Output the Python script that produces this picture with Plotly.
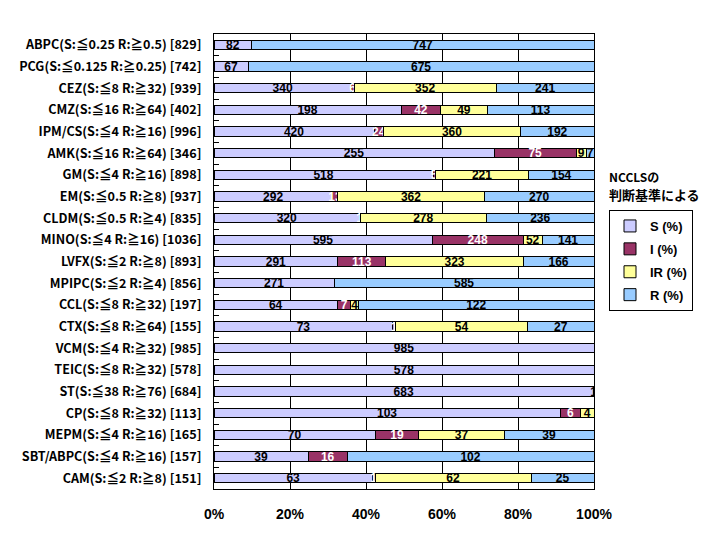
import plotly.graph_objects as go

categories = [
    "ABPC(S:≦0.25 R:≧0.5) [829]",
    "PCG(S:≦0.125 R:≧0.25) [742]",
    "CEZ(S:≦8 R:≧32) [939]",
    "CMZ(S:≦16 R:≧64) [402]",
    "IPM/CS(S:≦4 R:≧16) [996]",
    "AMK(S:≦16 R:≧64) [346]",
    "GM(S:≦4 R:≧16) [898]",
    "EM(S:≦0.5 R:≧8) [937]",
    "CLDM(S:≦0.5 R:≧4) [835]",
    "MINO(S:≦4 R:≧16) [1036]",
    "LVFX(S:≦2 R:≧8) [893]",
    "MPIPC(S:≦2 R:≧4) [856]",
    "CCL(S:≦8 R:≧32) [197]",
    "CTX(S:≦8 R:≧64) [155]",
    "VCM(S:≦4 R:≧32) [985]",
    "TEIC(S:≦8 R:≧32) [578]",
    "ST(S:≦38 R:≧76) [684]",
    "CP(S:≦8 R:≧32) [113]",
    "MEPM(S:≦4 R:≧16) [165]",
    "SBT/ABPC(S:≦4 R:≧16) [157]",
    "CAM(S:≦2 R:≧8) [151]",
]
S_vals = [82, 67, 340, 198, 420, 255, 518, 292, 320, 595, 291, 271, 64, 73, 985, 578, 683, 103, 70, 39, 63]
I_vals = [0, 0, 6, 42, 24, 75, 5, 13, 1, 248, 113, 0, 7, 1, 0, 0, 0, 6, 19, 16, 1]
IR_vals = [0, 0, 352, 49, 360, 9, 221, 362, 278, 52, 323, 0, 4, 54, 0, 0, 0, 4, 37, 0, 62]
R_vals = [747, 675, 241, 113, 192, 7, 154, 270, 236, 141, 166, 585, 122, 27, 0, 0, 1, 0, 39, 102, 25]
series_names = ["S (%)", "I (%)", "IR (%)", "R (%)"]
series_colors = ["#CCCCFF", "#993366", "#FFFF99", "#99CCFF"]
text_colors = ["black", "white", "black", "black"]
x_ticks = [0, 20, 40, 60, 80, 100]
x_ticktext = [f"{t}%" for t in x_ticks]
legend_title_lines = ["NCCLSの", "判断基準による"]

# page body adds an 8px offset; plot area target: x 214..594, y 34..489
W, H = 708, 526
ML, MR, MT, MB = 206, 122, 26, 45
PW, PH = W - ML - MR, H - MT - MB


def px_x(x):
    return (x - 8 - ML) / PW


def px_y(y):
    return 1 - (y - 8 - MT) / PH


fig = go.Figure()
for i, (name, vals) in enumerate(zip(series_names, [S_vals, I_vals, IR_vals, R_vals])):
    fig.add_trace(go.Bar(
        y=categories, x=vals, name=name, orientation="h",
        marker=dict(color=series_colors[i], line=dict(color="black", width=1)),
        text=[str(v) if v else "" for v in vals],
        textposition="inside", insidetextanchor="middle",
        constraintext="none", textangle=0,
        textfont=dict(family="Liberation Sans", size=12, color=text_colors[i], weight="bold"),
        legendgroup=name, hoverinfo="x+y",
    ))

fig.update_layout(
    barmode="stack", barnorm="percent", bargap=0.56,
    width=W, height=H,
    margin=dict(l=ML, r=MR, t=MT, b=MB, autoexpand=False),
    paper_bgcolor="white", plot_bgcolor="white",
    font=dict(family="Noto Sans CJK JP", color="black"),
    showlegend=True,
    legend=dict(
        x=px_x(609), y=px_y(210), xanchor="left", yanchor="top",
        xref="paper", yref="paper",
        bordercolor="black", borderwidth=1, bgcolor="white",
        font=dict(family="Liberation Sans", size=13, color="black", weight="bold"),
        traceorder="grouped", tracegroupgap=3, itemwidth=30,
    ),
    annotations=[
        dict(text=legend_title_lines[0], x=px_x(607), y=px_y(176),
             xref="paper", yref="paper", showarrow=False,
             xanchor="left", yanchor="middle",
             font=dict(family="Noto Sans CJK JP", size=12, color="black", weight="bold")),
        dict(text=legend_title_lines[1], x=px_x(607), y=px_y(194),
             xref="paper", yref="paper", showarrow=False,
             xanchor="left", yanchor="middle",
             font=dict(family="Noto Sans CJK JP", size=13, color="black", weight="bold")),
    ],
)

fig.update_xaxes(
    range=[0, 100], tickmode="array", tickvals=x_ticks, ticktext=x_ticktext,
    showgrid=True, gridcolor="black", gridwidth=1,
    showline=True, linecolor="black", linewidth=1, mirror=True,
    ticks="", ticklabelstandoff=12, zeroline=False,
    tickfont=dict(family="Liberation Sans", size=14, color="black", weight="bold"),
)
fig.update_yaxes(
    categoryorder="array", categoryarray=categories, autorange="reversed",
    showgrid=False, showline=True, linecolor="black", linewidth=1, mirror=True,
    ticks="inside", tickson="boundaries", ticklen=5, tickcolor="black",
    ticklabelstandoff=9,
    tickfont=dict(family="Noto Sans CJK JP", size=12.6, color="black", weight="bold"),
)

fig.write_html("out.html")
